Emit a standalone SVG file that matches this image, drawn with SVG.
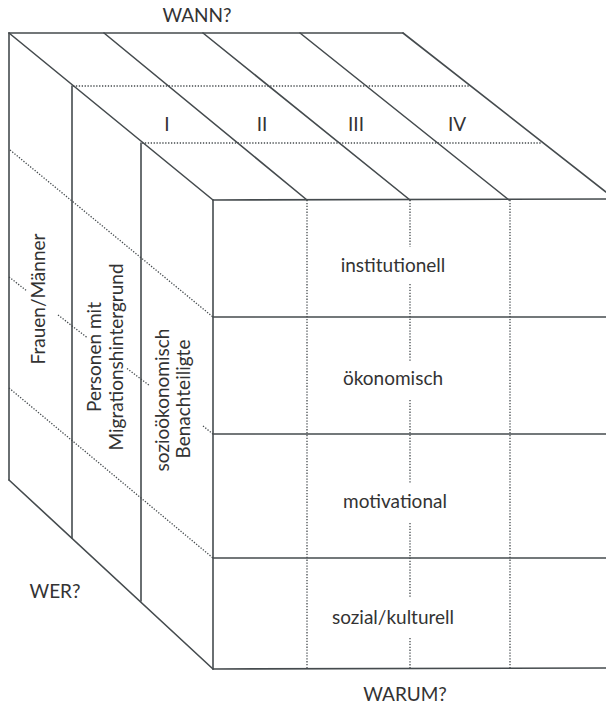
<svg xmlns="http://www.w3.org/2000/svg" width="606" height="710" viewBox="0 0 606 710">
<style>
.s{stroke:#454b4e;stroke-width:1.6;fill:none;stroke-linecap:round}
.d{stroke:#454b4e;stroke-width:1.3;fill:none;stroke-dasharray:1.3 1.6}
text{font-family:"Lato","Open Sans",sans-serif;font-size:19px;fill:#333;text-anchor:middle}
</style>
<rect width="606" height="710" fill="#fff"/>
<g id="connectors">
<!-- top face -->
<line class="s" x1="9" y1="33" x2="403" y2="33"/>
<line class="s" x1="9" y1="33" x2="213" y2="200"/>
<line class="s" x1="104" y1="33" x2="307" y2="200"/>
<line class="s" x1="203" y1="33" x2="410" y2="200"/>
<line class="s" x1="300" y1="33" x2="509" y2="200"/>
<line class="s" x1="403" y1="33" x2="606" y2="192"/>
<line class="d" x1="73" y1="86" x2="470" y2="86"/>
<line class="d" x1="142" y1="143" x2="541" y2="143"/>
<!-- left face -->
<line class="s" x1="9" y1="33" x2="9" y2="480"/>
<line class="s" x1="9" y1="480" x2="213" y2="669"/>
<line class="s" x1="72" y1="86" x2="72" y2="538"/>
<line class="s" x1="141" y1="143" x2="141" y2="601"/>
<line class="d" x1="10" y1="150" x2="213" y2="317"/>
<line class="d" x1="9" y1="388" x2="213" y2="558"/>
<line class="d" x1="9" y1="277" x2="27" y2="291"/>
<line class="d" x1="58" y1="315" x2="87" y2="337.5"/>
<line class="d" x1="127" y1="368.5" x2="150" y2="386"/>
<line class="d" x1="203" y1="426" x2="213" y2="434"/>
<!-- front face -->
<line class="s" x1="213" y1="200" x2="606" y2="199"/>
<line class="s" x1="213" y1="200" x2="213" y2="669"/>
<line class="s" x1="213" y1="317" x2="606" y2="317"/>
<line class="s" x1="213" y1="434" x2="606" y2="434"/>
<line class="s" x1="213" y1="558" x2="606" y2="558"/>
<line class="s" x1="213" y1="669" x2="606" y2="668"/>
<line class="d" x1="307" y1="200" x2="307" y2="669"/>
<line class="d" x1="510" y1="200" x2="510" y2="669"/>
<line class="d" x1="410" y1="200" x2="410" y2="247"/>
<line class="d" x1="410" y1="284" x2="410" y2="362"/>
<line class="d" x1="410" y1="400" x2="410" y2="483"/>
<line class="d" x1="410" y1="523" x2="410" y2="598"/>
<line class="d" x1="410" y1="638" x2="410" y2="669"/>
</g>
<g id="axis-wann"><text x="197" y="22">WANN?</text></g>
<g id="axis-wer"><text x="55" y="598">WER?</text></g>
<g id="axis-warum"><text x="405" y="701">WARUM?</text></g>
<g id="phase-1"><text x="167" y="131">I</text></g>
<g id="phase-2"><text x="262" y="131">II</text></g>
<g id="phase-3"><text x="356" y="131">III</text></g>
<g id="phase-4"><text x="457" y="131">IV</text></g>
<g id="wer-frauen"><text transform="translate(45,299) rotate(-90)">Frauen/Männer</text></g>
<g id="wer-migration"><text transform="translate(101,357) rotate(-90)">Personen mit</text><text transform="translate(123,357) rotate(-90)">Migrationshintergrund</text></g>
<g id="wer-sozio"><text transform="translate(169,400) rotate(-90)">sozioökonomisch</text><text transform="translate(190,399) rotate(-90)">Benachteiligte</text></g>
<g id="warum-institutionell"><text x="393" y="272">institutionell</text></g>
<g id="warum-oekonomisch"><text x="393" y="385">ökonomisch</text></g>
<g id="warum-motivational"><text x="395" y="508">motivational</text></g>
<g id="warum-sozial"><text x="393" y="624">sozial/kulturell</text></g>
</svg>
